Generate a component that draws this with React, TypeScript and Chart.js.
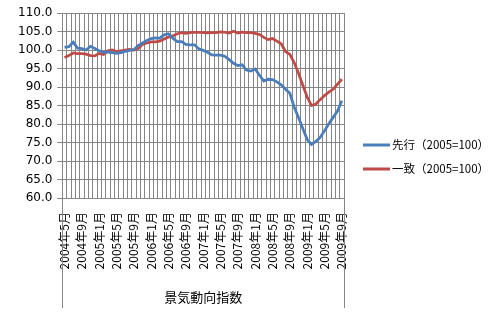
import React, { useEffect, useRef } from "react";
import { Chart, registerables } from "chart.js";

Chart.register(...registerables);

const MONTHS: string[] = [
  "2004年5月","2004年6月","2004年7月","2004年8月","2004年9月","2004年10月","2004年11月","2004年12月",
  "2005年1月","2005年2月","2005年3月","2005年4月","2005年5月","2005年6月","2005年7月","2005年8月",
  "2005年9月","2005年10月","2005年11月","2005年12月","2006年1月","2006年2月","2006年3月","2006年4月",
  "2006年5月","2006年6月","2006年7月","2006年8月","2006年9月","2006年10月","2006年11月","2006年12月",
  "2007年1月","2007年2月","2007年3月","2007年4月","2007年5月","2007年6月","2007年7月","2007年8月",
  "2007年9月","2007年10月","2007年11月","2007年12月","2008年1月","2008年2月","2008年3月","2008年4月",
  "2008年5月","2008年6月","2008年7月","2008年8月","2008年9月","2008年10月","2008年11月","2008年12月",
  "2009年1月","2009年2月","2009年3月","2009年4月","2009年5月","2009年6月","2009年7月","2009年8月",
  "2009年9月",
];

const TICK_LABELS: string[] = [
  "2004年5月","2004年9月","2005年1月","2005年5月","2005年9月","2006年1月","2006年5月","2006年9月",
  "2007年1月","2007年5月","2007年9月","2008年1月","2008年5月","2008年9月","2009年1月","2009年5月","2009年9月",
];

const LEADING: number[] = [
  100.7,100.9,102.1,100.5,100.4,100.0,101.0,100.4,99.8,99.4,
  99.4,99.3,99.1,99.3,99.6,99.9,100.1,101.2,101.9,102.6,
  103.1,103.3,103.2,104.1,104.4,103.2,102.3,102.3,101.5,101.4,
  101.4,100.3,99.9,99.4,98.7,98.6,98.6,98.3,97.4,96.4,
  95.8,96.0,94.6,94.3,94.9,93.2,91.6,92.1,92.0,91.4,
  90.6,89.4,88.3,84.6,81.8,78.8,75.8,74.5,75.3,76.4,
  78.2,80.1,81.8,83.5,86.3,
];

const COINCIDENT: number[] = [
  98.0,98.5,99.2,99.0,99.0,98.9,98.5,98.4,99.1,98.8,
  99.8,100.0,99.6,99.8,100.0,100.2,100.0,100.4,101.5,101.9,
  102.2,102.2,102.4,103.0,103.5,103.8,104.4,104.7,104.5,104.7,
  104.8,104.8,104.7,104.6,104.7,104.7,104.9,104.8,104.6,105.1,
  104.6,104.8,104.7,104.7,104.5,104.2,103.4,102.8,103.1,102.4,
  101.7,99.6,98.8,96.6,93.7,90.5,87.3,85.0,85.4,86.6,
  87.7,88.6,89.4,90.8,92.1,
];

const SERIES_NAMES: string[] = ["先行（2005=100）", "一致（2005=100）"];
const SERIES_COLORS: string[] = ["#4A7EBB", "#BE4B48"];
const AXIS_TITLE = "景気動向指数";
const Y_MIN = 60;
const Y_MAX = 110;
const Y_STEP = 5;

const GRID = "#868686";
const FONT = "'Noto Sans CJK JP', 'DejaVu Sans', sans-serif";

const decorPlugin = {
  id: "decor",
  afterDraw(chart: any) {
    const ctx = chart.ctx as CanvasRenderingContext2D;
    const { left, right, bottom } = chart.chartArea;
    ctx.save();
    ctx.strokeStyle = GRID;
    ctx.lineWidth = 1;
    ctx.beginPath();
    const l = Math.round(left) + 0.5;
    const r = Math.round(right) + 0.5;
    ctx.moveTo(l, bottom);
    ctx.lineTo(l, 308);
    ctx.moveTo(r, bottom);
    ctx.lineTo(r, 308);
    ctx.stroke();
    ctx.font = `11.5px ${FONT}`;
    ctx.textBaseline = "middle";
    ctx.textAlign = "left";
    chart.data.datasets.forEach((ds: any, i: number) => {
      const y = 145 + i * 24;
      ctx.strokeStyle = ds.borderColor;
      ctx.lineWidth = 3;
      ctx.beginPath();
      ctx.moveTo(363, y);
      ctx.lineTo(390, y);
      ctx.stroke();
      ctx.fillStyle = "#000";
      ctx.fillText(ds.label, 392, y);
    });
    ctx.restore();
  },
};

export default function App() {
  const ref = useRef<HTMLCanvasElement>(null);
  useEffect(() => {
    if (!ref.current) return;
    const chart = new Chart(ref.current, {
      type: "line",
      data: {
        labels: MONTHS,
        datasets: [
          {
            label: SERIES_NAMES[0],
            data: LEADING,
            borderColor: SERIES_COLORS[0],
            backgroundColor: SERIES_COLORS[0],
            borderWidth: 2.75,
            pointRadius: 0,
            tension: 0,
            fill: false,
          },
          {
            label: SERIES_NAMES[1],
            data: COINCIDENT,
            borderColor: SERIES_COLORS[1],
            backgroundColor: SERIES_COLORS[1],
            borderWidth: 2.75,
            pointRadius: 0,
            tension: 0,
            fill: false,
          },
        ],
      },
      options: {
        responsive: false,
        animation: false,
        devicePixelRatio: 1,
        layout: { padding: { left: 13, right: 155, top: 13, bottom: 6 } },
        plugins: {
          legend: { display: false },
          tooltip: { enabled: false },
        },
        scales: {
          x: {
            type: "category",
            offset: true,
            grid: { color: GRID, offset: true, drawTicks: false, lineWidth: 1 },
            border: { color: GRID },
            ticks: {
              autoSkip: false,
              maxRotation: 90,
              minRotation: 90,
              padding: 14,
              color: "#000",
              font: { family: FONT, size: 12 },
              callback: function (this: any, _v: any, i: number) {
                const lab = MONTHS[i];
                return TICK_LABELS.includes(lab) ? lab : "";
              },
            },
            title: {
              display: true,
              text: AXIS_TITLE,
              color: "#000",
              font: { family: FONT, size: 13 },
              padding: { top: 6, bottom: 4 },
            },
          },
          y: {
            min: Y_MIN,
            max: Y_MAX,
            grid: { color: GRID, drawTicks: true, tickLength: 5, lineWidth: 1 },
            border: { color: GRID },
            ticks: {
              stepSize: Y_STEP,
              padding: 5,
              color: "#000",
              font: { family: "'DejaVu Sans', sans-serif", size: 12 },
              callback: (v: any) => Number(v).toFixed(1),
            },
          },
        },
      },
      plugins: [decorPlugin],
    });
    return () => chart.destroy();
  }, []);
  return (
    <canvas
      ref={ref}
      width={499}
      height={315}
      style={{ position: "absolute", left: 0, top: 0, width: 499, height: 315, display: "block" }}
    />
  );
}
